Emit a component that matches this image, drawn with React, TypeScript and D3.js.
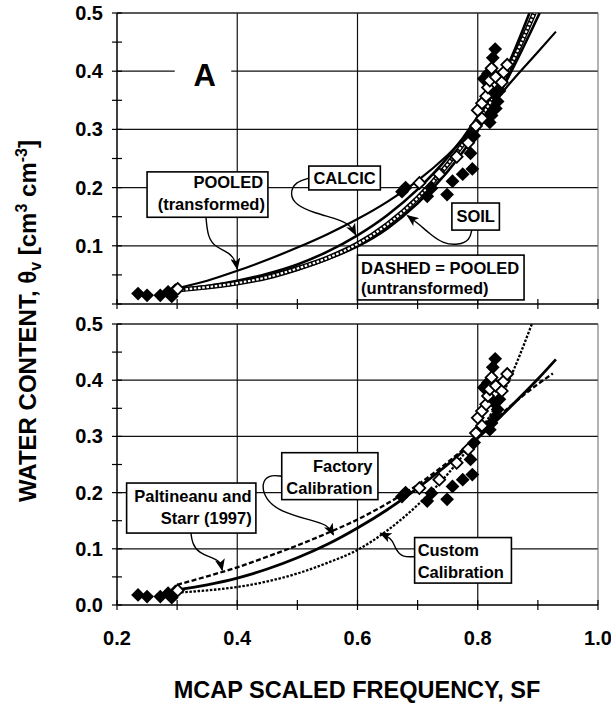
import React, { useRef, useEffect } from 'react';
import * as d3 from 'd3';

const FONT = '"Liberation Sans", Arial, Helvetica, sans-serif';

// axis ticks
const xTicks = [0.2, 0.4, 0.6, 0.8, 1.0];
const xMinor = [0.3, 0.5, 0.7, 0.9];
const yTicksTop = [0.1, 0.2, 0.3, 0.4, 0.5];
const yTicksBottom = [0.0, 0.1, 0.2, 0.3, 0.4, 0.5];
const yMinor = [0.05, 0.15, 0.25, 0.35, 0.45];

// measured points (same set in both panels)
const filledSF = [0.235, 0.25, 0.272, 0.285, 0.297, 0.291, 0.674, 0.68, 0.716, 0.723, 0.749, 0.758, 0.775, 0.791, 0.788, 0.794, 0.82, 0.823, 0.83, 0.833, 0.827, 0.836, 0.81, 0.817, 0.825, 0.829];
const filledTheta = [0.018, 0.015, 0.015, 0.021, 0.024, 0.013, 0.193, 0.2, 0.185, 0.199, 0.188, 0.211, 0.223, 0.232, 0.259, 0.289, 0.312, 0.324, 0.336, 0.348, 0.36, 0.366, 0.387, 0.396, 0.423, 0.438];
const openSF = [0.301, 0.703, 0.736, 0.765, 0.784, 0.797, 0.807, 0.8, 0.807, 0.814, 0.817, 0.82, 0.823, 0.83, 0.84, 0.843, 0.849];
const openTheta = [0.026, 0.208, 0.223, 0.253, 0.277, 0.306, 0.319, 0.333, 0.345, 0.357, 0.372, 0.384, 0.405, 0.39, 0.381, 0.398, 0.411];

// panel A curves
const pooledTSF = [0.30, 0.35, 0.40, 0.45, 0.50, 0.55, 0.60, 0.65, 0.70, 0.75, 0.80, 0.85, 0.90, 0.93];
const pooledTTheta = [0.027, 0.040, 0.057, 0.076, 0.097, 0.120, 0.146, 0.176, 0.212, 0.256, 0.31, 0.375, 0.433, 0.468];
const calcicSF = [0.30, 0.35, 0.40, 0.45, 0.50, 0.55, 0.60, 0.65, 0.70, 0.75, 0.80, 0.85, 0.886];
const calcicTheta = [0.025, 0.031, 0.040, 0.052, 0.068, 0.090, 0.118, 0.153, 0.197, 0.252, 0.322, 0.41, 0.5];
const soilSF = [0.30, 0.35, 0.40, 0.45, 0.50, 0.55, 0.60, 0.65, 0.70, 0.75, 0.80, 0.85, 0.903];
const soilTheta = [0.023, 0.028, 0.035, 0.045, 0.059, 0.077, 0.099, 0.13, 0.173, 0.228, 0.298, 0.388, 0.5];
const pooledUSF = [0.30, 0.35, 0.40, 0.45, 0.50, 0.55, 0.60, 0.65, 0.70, 0.75, 0.80, 0.85, 0.894];
const pooledUTheta = [0.024, 0.029, 0.036, 0.046, 0.061, 0.079, 0.103, 0.137, 0.182, 0.24, 0.312, 0.40, 0.5];

// panel B curves
const paltSF = [0.30, 0.35, 0.40, 0.45, 0.50, 0.55, 0.60, 0.65, 0.70, 0.75, 0.80, 0.85, 0.90, 0.925];
const paltTheta = [0.036, 0.051, 0.067, 0.086, 0.106, 0.128, 0.152, 0.181, 0.214, 0.254, 0.300, 0.350, 0.393, 0.412];
const factorySF = [0.30, 0.35, 0.40, 0.45, 0.50, 0.55, 0.60, 0.65, 0.70, 0.75, 0.80, 0.85, 0.90, 0.93];
const factoryTheta = [0.027, 0.036, 0.048, 0.064, 0.084, 0.108, 0.137, 0.170, 0.208, 0.25, 0.297, 0.348, 0.402, 0.437];
const customSF = [0.30, 0.35, 0.40, 0.45, 0.50, 0.55, 0.60, 0.65, 0.70, 0.75, 0.80, 0.85, 0.89];
const customTheta = [0.022, 0.026, 0.032, 0.042, 0.056, 0.075, 0.098, 0.133, 0.178, 0.233, 0.303, 0.395, 0.5];

const zip = (a, b) => a.map((v, i) => [v, b[i]]);

export default function App() {
  const svgRef = useRef(null);

  useEffect(() => {
    const svg = d3.select(svgRef.current);
    svg.selectAll('*').remove();

    const x = d3.scaleLinear().domain([0.2, 1.0]).range([117, 598]);
    const yTop = d3.scaleLinear().domain([0, 0.5]).range([304, 13]);
    const yBot = d3.scaleLinear().domain([0, 0.5]).range([605, 324]);

    const defs = svg.append('defs');
    defs.append('marker')
      .attr('id', 'head')
      .attr('viewBox', '0 0 12 10')
      .attr('refX', 11)
      .attr('refY', 5)
      .attr('markerWidth', 12)
      .attr('markerHeight', 10)
      .attr('markerUnits', 'userSpaceOnUse')
      .attr('orient', 'auto')
      .append('path')
      .attr('d', 'M0,0 L12,5 L0,10 L3,5 Z')
      .attr('fill', '#000');

    const drawPanel = (id, y, yTicks, curves, notes, showX) => {
      const g = svg.append('g');
      const [y0, y1] = y.range();

      defs.append('clipPath').attr('id', id)
        .append('rect').attr('x', x(0.2)).attr('y', y1).attr('width', x(1) - x(0.2)).attr('height', y0 - y1);

      // grid
      g.selectAll('line.gx').data([0.4, 0.6, 0.8]).join('line').attr('class', 'gx')
        .attr('x1', d => x(d)).attr('x2', d => x(d)).attr('y1', y(0)).attr('y2', y(0.5))
        .attr('stroke', '#111').attr('stroke-width', 1.2);
      g.selectAll('line.gy').data([0.1, 0.2, 0.3, 0.4]).join('line').attr('class', 'gy')
        .attr('x1', x(0.2)).attr('x2', x(1)).attr('y1', d => y(d)).attr('y2', d => y(d))
        .attr('stroke', '#111').attr('stroke-width', 1.2);

      // frame top/right
      g.append('line').attr('x1', x(0.2)).attr('x2', x(1)).attr('y1', y(0.5)).attr('y2', y(0.5))
        .attr('stroke', '#222').attr('stroke-width', 1.3);
      g.append('line').attr('x1', x(1)).attr('x2', x(1)).attr('y1', y(0.5)).attr('y2', y(0))
        .attr('stroke', '#666').attr('stroke-width', 1);

      const plot = g.append('g').attr('clip-path', `url(#${id})`);
      const line = d3.line().x(d => x(d[0])).y(d => y(d[1])).curve(d3.curveMonotoneX);

      curves.forEach(c => {
        const pts = zip(c.sf, c.th);
        if (c.ladder) {
          plot.append('path').attr('d', line(pts)).attr('fill', 'none')
            .attr('stroke', '#000').attr('stroke-width', 5);
          plot.append('path').attr('d', line(pts)).attr('fill', 'none')
            .attr('stroke', '#fff').attr('stroke-width', 2.2).attr('stroke-dasharray', '2.6,1.6');
        } else {
          plot.append('path').attr('d', line(pts)).attr('fill', 'none')
            .attr('stroke', '#000').attr('stroke-width', c.w)
            .attr('stroke-dasharray', c.dash || null);
        }
      });

      plot.selectAll('path.filled').data(zip(filledSF, filledTheta)).join('path').attr('class', 'filled')
        .attr('d', d3.symbol().type(d3.symbolSquare).size(95))
        .attr('transform', d => `translate(${x(d[0])},${y(d[1])}) rotate(45)`)
        .attr('fill', '#000');
      plot.selectAll('path.open').data(zip(openSF, openTheta)).join('path').attr('class', 'open')
        .attr('d', d3.symbol().type(d3.symbolSquare).size(70))
        .attr('transform', d => `translate(${x(d[0])},${y(d[1])}) rotate(45)`)
        .attr('fill', '#fff').attr('stroke', '#000').attr('stroke-width', 1.8);

      // annotations
      const arrowLine = d3.line().x(d => x(d[0])).y(d => y(d[1])).curve(d3.curveBasis);
      notes.forEach(n => {
        if (n.arrow) {
          g.append('path').attr('d', arrowLine(n.arrow)).attr('fill', 'none')
            .attr('stroke', '#000').attr('stroke-width', 1.4).attr('marker-end', 'url(#head)');
        }
        g.append('rect')
          .attr('x', x(n.box[0])).attr('y', y(n.box[3]))
          .attr('width', x(n.box[1]) - x(n.box[0])).attr('height', y(n.box[2]) - y(n.box[3]))
          .attr('fill', '#fff').attr('stroke', '#000').attr('stroke-width', 1.6);
        n.lines.forEach(l => {
          g.append('text').attr('x', x(l.sf)).attr('y', y(l.th))
            .attr('text-anchor', l.anchor).attr('font-family', FONT).attr('font-weight', 'bold')
            .attr('font-size', 16.5).attr('fill', '#000').text(l.t);
        });
      });

      // axes
      g.append('line').attr('x1', x(0.2)).attr('x2', x(0.2)).attr('y1', y(0)).attr('y2', y(0.5))
        .attr('stroke', '#000').attr('stroke-width', 1.5);
      g.append('line').attr('x1', x(0.2)).attr('x2', x(1)).attr('y1', y(0)).attr('y2', y(0))
        .attr('stroke', '#000').attr('stroke-width', 1.5);
      g.selectAll('line.yt').data([0, 0.1, 0.2, 0.3, 0.4, 0.5, ...yMinor]).join('line').attr('class', 'yt')
        .attr('x1', x(0.2) - 5).attr('x2', x(0.2) + 5).attr('y1', d => y(d)).attr('y2', d => y(d))
        .attr('stroke', '#000').attr('stroke-width', 1.2);
      g.selectAll('line.xt').data([...xTicks, ...xMinor]).join('line').attr('class', 'xt')
        .attr('x1', d => x(d)).attr('x2', d => x(d)).attr('y1', y(0) - 5).attr('y2', y(0) + 5)
        .attr('stroke', '#000').attr('stroke-width', 1.2);

      g.selectAll('text.yl').data(yTicks).join('text').attr('class', 'yl')
        .attr('x', 103).attr('y', d => y(d) + 7)
        .attr('text-anchor', 'end').attr('font-family', FONT).attr('font-weight', 'bold')
        .attr('font-size', 20).text(d => d3.format('.1f')(d));

      if (showX) {
        g.selectAll('text.xl').data(xTicks).join('text').attr('class', 'xl')
          .attr('x', d => x(d)).attr('y', 645)
          .attr('text-anchor', 'middle').attr('font-family', FONT).attr('font-weight', 'bold')
          .attr('font-size', 20).text(d => d3.format('.1f')(d));
      }
      return g;
    };

    const topCurves = [
      { sf: soilSF, th: soilTheta, w: 2.6 },
      { sf: calcicSF, th: calcicTheta, w: 2.6 },
      { sf: pooledUSF, th: pooledUTheta, ladder: true },
      { sf: pooledTSF, th: pooledTTheta, w: 2.2 },
    ];
    const topNotes = [
      {
        box: [0.25, 0.451, 0.149, 0.227],
        lines: [
          { t: 'POOLED', sf: 0.443, th: 0.199, anchor: 'end' },
          { t: '(transformed)', sf: 0.446, th: 0.1615, anchor: 'end' },
        ],
        arrow: [[0.348, 0.149], [0.351, 0.115], [0.363, 0.098], [0.388, 0.088], [0.398, 0.072], [0.4, 0.06]],
      },
      {
        box: [0.519, 0.638, 0.196, 0.237],
        lines: [{ t: 'CALCIC', sf: 0.5785, th: 0.206, anchor: 'middle' }],
        arrow: [[0.519, 0.216], [0.497, 0.21], [0.487, 0.19], [0.497, 0.17], [0.529, 0.156], [0.574, 0.144], [0.59, 0.133], [0.597, 0.119]],
      },
      {
        box: [0.757, 0.836, 0.127, 0.1735],
        lines: [{ t: 'SOIL', sf: 0.7965, th: 0.141, anchor: 'middle' }],
        arrow: [[0.79, 0.127], [0.787, 0.11], [0.768, 0.101], [0.742, 0.104], [0.722, 0.119], [0.7, 0.139], [0.683, 0.152]],
      },
      {
        box: [0.6, 0.877, 0.007, 0.084],
        lines: [
          { t: 'DASHED = POOLED', sf: 0.606, th: 0.0515, anchor: 'start' },
          { t: '(untransformed)', sf: 0.606, th: 0.017, anchor: 'start' },
        ],
      },
    ];

    const botCurves = [
      { sf: paltSF, th: paltTheta, w: 2.3, dash: '5,2.5' },
      { sf: customSF, th: customTheta, w: 2.3, dash: '2.5,1.6' },
      { sf: factorySF, th: factoryTheta, w: 2.8 },
    ];
    const botNotes = [
      {
        box: [0.474, 0.634, 0.1875, 0.271],
        lines: [
          { t: 'Factory', sf: 0.625, th: 0.237, anchor: 'end' },
          { t: 'Calibration', sf: 0.625, th: 0.1975, anchor: 'end' },
        ],
        arrow: [[0.474, 0.229], [0.453, 0.232], [0.44, 0.217], [0.447, 0.187], [0.473, 0.166], [0.518, 0.152], [0.551, 0.143], [0.56, 0.125]],
      },
      {
        box: [0.216, 0.431, 0.128, 0.217],
        lines: [
          { t: 'Paltineanu and', sf: 0.424, th: 0.183, anchor: 'end' },
          { t: 'Starr (1997)', sf: 0.424, th: 0.144, anchor: 'end' },
        ],
        arrow: [[0.323, 0.128], [0.325, 0.11], [0.336, 0.0925], [0.359, 0.084], [0.372, 0.077], [0.375, 0.062]],
      },
      {
        box: [0.695, 0.856, 0.039, 0.12],
        lines: [
          { t: 'Custom', sf: 0.7, th: 0.087, anchor: 'start' },
          { t: 'Calibration', sf: 0.7, th: 0.048, anchor: 'start' },
        ],
        arrow: [[0.695, 0.086], [0.674, 0.085], [0.664, 0.098], [0.658, 0.116], [0.648, 0.123], [0.638, 0.128]],
      },
    ];

    const gTop = drawPanel('clipTop', yTop, yTicksTop, topCurves, topNotes, false);
    drawPanel('clipBot', yBot, yTicksBottom, botCurves, botNotes, true);

    // panel letter
    gTop.append('rect').attr('x', x(0.296)).attr('y', yTop(0.416))
      .attr('width', x(0.39) - x(0.296)).attr('height', yTop(0.371) - yTop(0.416)).attr('fill', '#fff');
    gTop.append('text').attr('x', x(0.346)).attr('y', yTop(0.374))
      .attr('text-anchor', 'middle').attr('font-family', FONT).attr('font-weight', 'bold')
      .attr('font-size', 31).text('A');

    // axis titles
    svg.append('text').attr('x', 357).attr('y', 698)
      .attr('text-anchor', 'middle').attr('font-family', FONT).attr('font-weight', 'bold')
      .attr('font-size', 23.5).text('MCAP SCALED FREQUENCY, SF');

    const yt = svg.append('text').attr('transform', 'translate(36,321) rotate(-90)')
      .attr('text-anchor', 'middle').attr('font-family', FONT).attr('font-weight', 'bold')
      .attr('font-size', 24);
    yt.append('tspan').text('WATER CONTENT, \u03b8');
    yt.append('tspan').attr('dy', 5).attr('font-size', 16).text('v');
    yt.append('tspan').attr('dy', -5).text(' [cm');
    yt.append('tspan').attr('dy', -9).attr('font-size', 16).text('3');
    yt.append('tspan').attr('dy', 9).text(' cm');
    yt.append('tspan').attr('dy', -9).attr('font-size', 16).text('-3');
    yt.append('tspan').attr('dy', 9).text(']');
  }, []);

  return (
    <svg
      ref={svgRef}
      width={611}
      height={704}
      style={{ position: 'absolute', left: 0, top: 0, background: '#fff' }}
    />
  );
}
